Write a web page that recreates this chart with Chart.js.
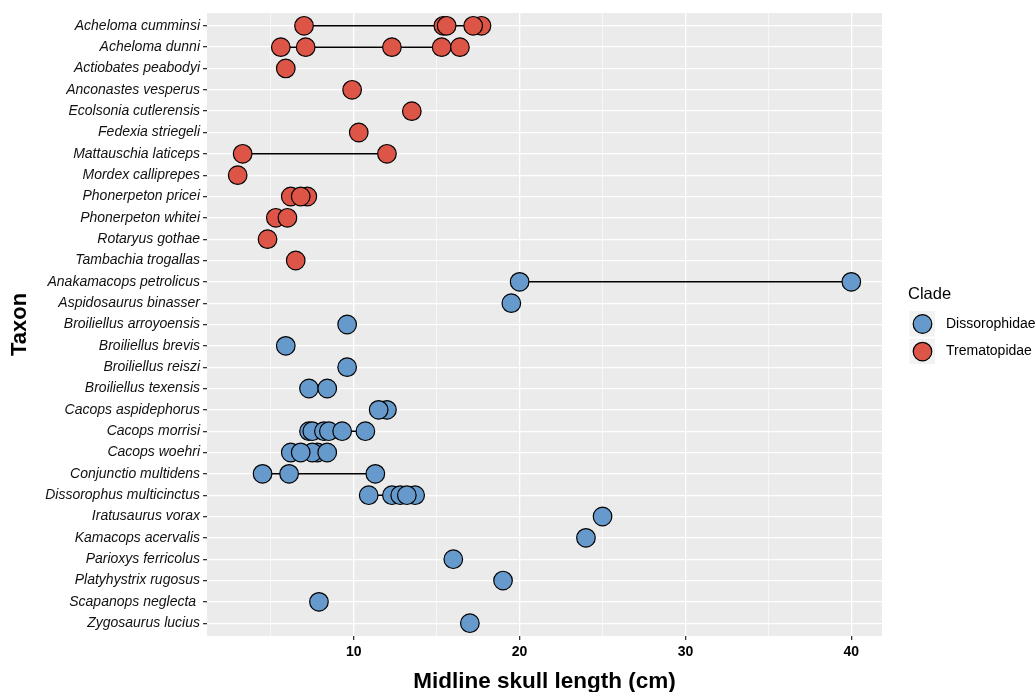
<!DOCTYPE html>
<html><head><meta charset="utf-8">
<script src="https://cdn.jsdelivr.net/npm/chart.js@4.4.0/dist/chart.umd.min.js"></script>
<style>html,body{margin:0;padding:0;background:#fff;} #wrap{width:1036px;height:692px;position:relative;}</style>
</head><body><div id="wrap"><canvas id="c" width="1036" height="692"></canvas></div>
<script>
const taxa = [
  "Acheloma cumminsi","Acheloma dunni","Actiobates peabodyi","Anconastes vesperus",
  "Ecolsonia cutlerensis","Fedexia striegeli","Mattauschia laticeps","Mordex calliprepes",
  "Phonerpeton pricei","Phonerpeton whitei","Rotaryus gothae","Tambachia trogallas",
  "Anakamacops petrolicus","Aspidosaurus binasser","Broiliellus arroyoensis","Broiliellus brevis",
  "Broiliellus reiszi","Broiliellus texensis","Cacops aspidephorus","Cacops morrisi",
  "Cacops woehri","Conjunctio multidens","Dissorophus multicinctus","Iratusaurus vorax",
  "Kamacops acervalis","Parioxys ferricolus","Platyhystrix rugosus","Scapanops neglecta ",
  "Zygosaurus lucius"
];
const taxonClade = [
  "Trematopidae","Trematopidae","Trematopidae","Trematopidae","Trematopidae","Trematopidae",
  "Trematopidae","Trematopidae","Trematopidae","Trematopidae","Trematopidae","Trematopidae",
  "Dissorophidae","Dissorophidae","Dissorophidae","Dissorophidae","Dissorophidae","Dissorophidae",
  "Dissorophidae","Dissorophidae","Dissorophidae","Dissorophidae","Dissorophidae","Dissorophidae",
  "Dissorophidae","Dissorophidae","Dissorophidae","Dissorophidae","Dissorophidae"
];
const skullLengths = [
  [7.0, 15.4, 15.6, 17.7, 17.2],
  [5.6, 7.1, 12.3, 15.3, 16.4],
  [5.9],
  [9.9],
  [13.5],
  [10.3],
  [3.3, 12.0],
  [3.0],
  [6.2, 7.2, 6.8],
  [5.3, 6.0],
  [4.8],
  [6.5],
  [20.0, 40.0],
  [19.5],
  [9.6],
  [5.9],
  [9.6],
  [7.3, 8.4],
  [12.0, 11.5],
  [7.3, 7.5, 8.2, 8.5, 9.3, 10.7],
  [6.2, 7.8, 7.5, 6.8, 8.4],
  [4.5, 6.1, 11.3],
  [10.9, 12.3, 13.7, 12.8, 13.2],
  [25.0],
  [24.0],
  [16.0],
  [19.0],
  [7.9],
  [17.0]
];
const clades = ["Dissorophidae","Trematopidae"];
const cladeColors = ["#6699CC","#DD5547"];
const xTickValues = [5,10,15,20,25,30,35,40];
const xMin = 1.15, xMax = 41.85;

const FONT = "'Liberation Sans', Arial, Helvetica, sans-serif";

const datasets = [];
clades.forEach((cl, ci) => {
  const pts = [];
  taxa.forEach((t, i) => {
    if (taxonClade[i] === cl) skullLengths[i].forEach(v => pts.push({x: v, y: i}));
  });
  datasets.push({
    type: 'scatter', label: cl, data: pts, order: 0,
    backgroundColor: cladeColors[ci], borderColor: '#000', borderWidth: 1.2,
    pointRadius: 9.3, pointHoverRadius: 9.3
  });
});
taxa.forEach((t, i) => {
  const vals = skullLengths[i];
  if (vals.length > 1) {
    datasets.push({
      type: 'line', label: t, order: 1,
      data: [{x: Math.min(...vals), y: i}, {x: Math.max(...vals), y: i}],
      borderColor: '#000', borderWidth: 1.5, pointRadius: 0, showLine: true, fill: false
    });
  }
});

const panelBg = {
  id: 'panelBg',
  beforeDraw(chart) {
    const {ctx, chartArea: a} = chart;
    ctx.save();
    ctx.fillStyle = '#EBEBEB';
    ctx.fillRect(a.left, a.top, a.right - a.left, a.bottom - a.top);
    ctx.restore();
  }
};
const cladeLegend = {
  id: 'cladeLegend',
  afterDraw(chart) {
    const ctx = chart.ctx;
    ctx.save();
    ctx.fillStyle = '#000';
    ctx.font = "16.5px " + FONT;
    ctx.textBaseline = 'alphabetic';
    ctx.textAlign = 'left';
    ctx.fillText('Clade', 908, 299);
    clades.forEach((cl, i) => {
      const y0 = 311 + i * 27.6;
      ctx.fillStyle = '#F2F2F2';
      ctx.fillRect(909.5, y0, 25.5, 25.5);
      ctx.beginPath();
      ctx.arc(922.5, y0 + 13, 9.3, 0, Math.PI * 2);
      ctx.fillStyle = cladeColors[i];
      ctx.fill();
      ctx.lineWidth = 1.2;
      ctx.strokeStyle = '#000';
      ctx.stroke();
      ctx.fillStyle = '#000';
      ctx.font = "14px " + FONT;
      ctx.textBaseline = 'middle';
      ctx.fillText(cl, 946, y0 + 13);
    });
    ctx.restore();
  }
};

new Chart(document.getElementById('c'), {
  type: 'scatter',
  data: { datasets },
  plugins: [panelBg, cladeLegend],
  options: {
    responsive: false, animation: false, devicePixelRatio: 1,
    layout: { padding: { top: 13, right: 154, left: 0, bottom: 0 } },
    plugins: { legend: { display: false }, tooltip: { enabled: false } },
    scales: {
      x: {
        type: 'linear', min: xMin, max: xMax,
        afterBuildTicks: s => { s.ticks = xTickValues.map(v => ({value: v})); },
        afterFit: s => { s.height = 56; },
        border: { display: false },
        grid: {
          color: '#FFFFFF',
          lineWidth: c => (c.tick && c.tick.value % 10 === 0) ? 1.3 : 0.6,
          tickColor: c => (c.tick && c.tick.value % 10 === 0) ? '#333333' : 'rgba(0,0,0,0)',
          tickLength: 4, drawTicks: true
        },
        ticks: {
          autoSkip: false, maxRotation: 0, padding: 4, color: '#000',
          font: { family: FONT, size: 14, weight: 'bold' },
          callback: v => (v % 10 === 0 ? String(v) : '')
        },
        title: {
          display: true, text: 'Midline skull length (cm)', color: '#000',
          font: { family: FONT, size: 22.5, weight: 'bold', lineHeight: 1 },
          padding: { top: 0, bottom: -1 }
        }
      },
      y: {
        type: 'linear', reverse: true, min: -0.6, max: taxa.length - 0.4,
        afterBuildTicks: s => { s.ticks = taxa.map((t, i) => ({value: i})); },
        afterFit: s => { s.width = 207; },
        border: { display: false },
        grid: { color: '#FFFFFF', lineWidth: 1.3, tickColor: '#333333', tickLength: 4 },
        ticks: {
          autoSkip: false, padding: 3, color: '#111111',
          font: { family: FONT, size: 14, style: 'italic' },
          callback: v => taxa[v]
        },
        title: {
          display: true, text: 'Taxon', color: '#000',
          font: { family: FONT, size: 22, weight: 'bold', lineHeight: 1.2 },
          padding: { top: 7, bottom: 0 }
        }
      }
    }
  }
});
</script></body></html>
